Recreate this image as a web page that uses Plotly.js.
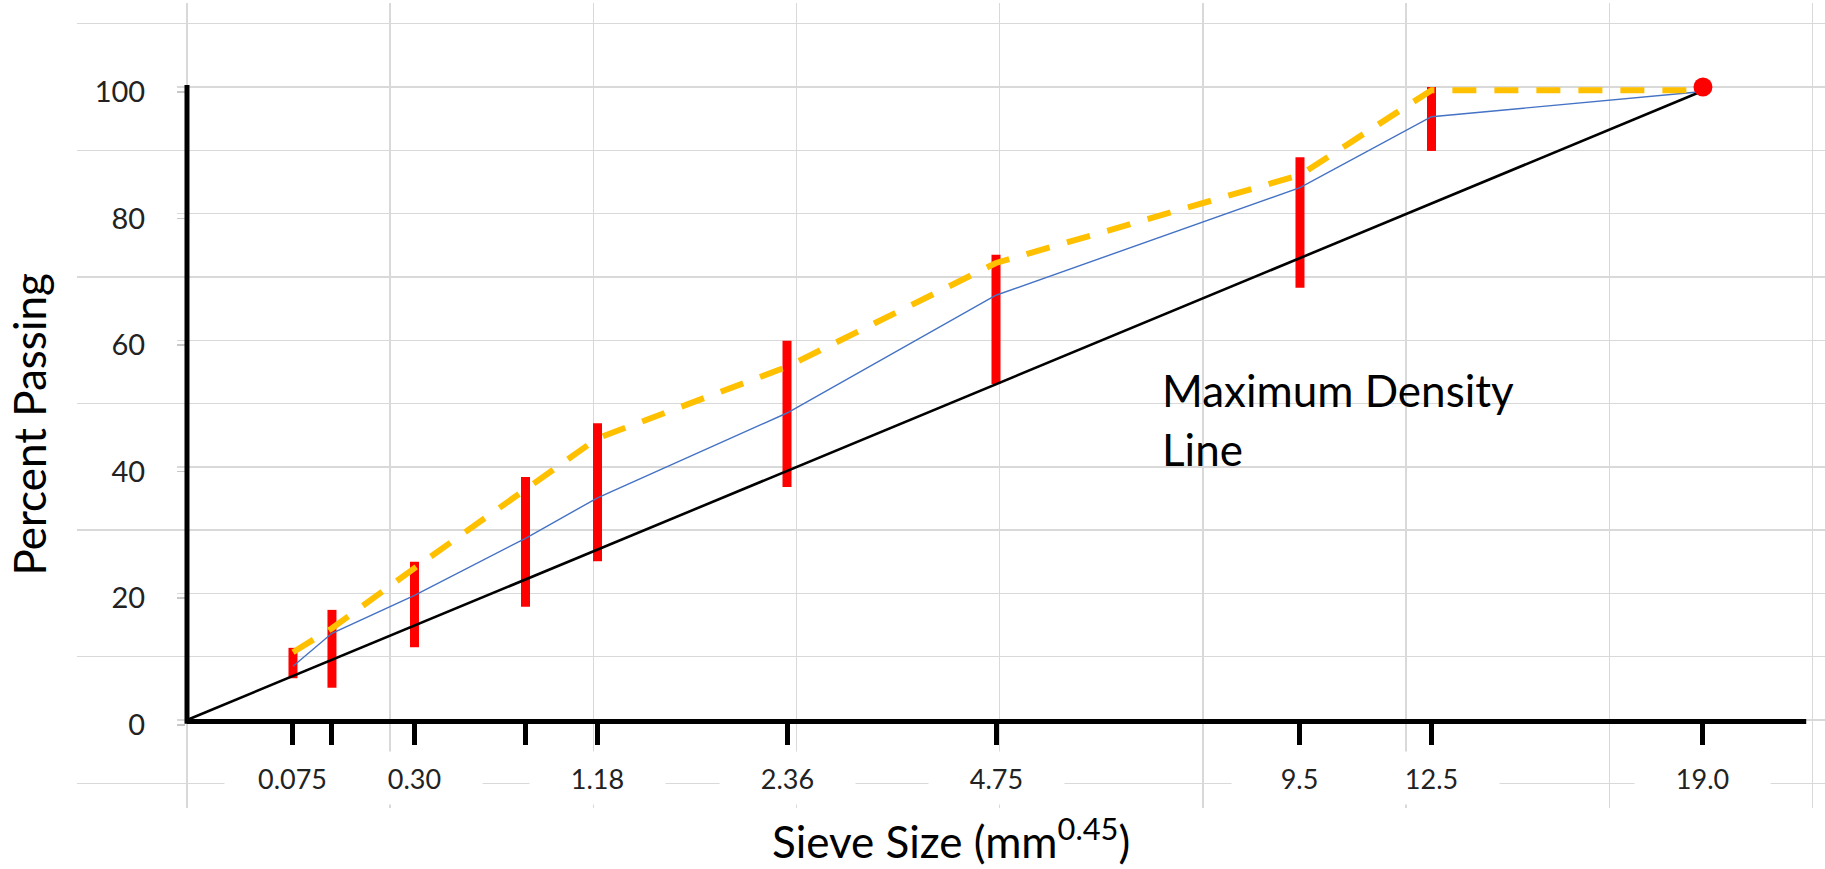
<!DOCTYPE html>
<html><head><meta charset="utf-8">
<script src="https://cdn.plot.ly/plotly-3.0.1.min.js"></script>
<style>html,body{margin:0;padding:0;background:#fff;overflow:hidden}#chart{width:1825px;height:869px}</style>
</head><body><div id="chart"></div>
<script>
// ---- data ----
const sieveSizes = ['0.075','0.15','0.30','0.60','1.18','2.36','4.75','9.5','12.5','19.0'];
const sieveTickLabels = ['0.075','','0.30','','1.18','2.36','4.75','9.5','12.5','19.0'];
// sieve positions on the horizontal axis, in mm^0.45 as drawn
const sieveX = [0.2625,0.359,0.5634,0.8383,1.0166,1.4859,2.0035,2.7563,3.082,3.7543];
// control band (red bars), percent passing
const controlLow  = [6.6,5.1,11.5,17.9,25.1,36.8,53.1,68.3,89.9];
const controlHigh = [11.4,17.4,25.0,38.4,46.9,59.9,73.5,88.9,100];
// upper gradation (dashed gold) and blend gradation (blue)
const upperGradation = [10.7,14.5,24.0,36.3,44.5,55.8,72.2,86.1,99.5,99.5];
const blendGradation = [8.5,13.7,19.7,28.7,35.1,48.5,67.1,84.1,95.3,99.3];
// maximum density line end points
const maxDensityPct = [0, 99.4];
const maxSizePct = [100];
const yTickVals = [0,20,40,60,80,100];
const yTickText = ['0','20','40','60','80','100'];

// ---- geometry ----
const W=1825,H=869,ML=77,MR=0,MT=3,MB=61;
const PW=W-ML-MR, PH=H-MT-MB;
const xRange=[-0.2724,4.0565], yRange=[-13.9,113.27];
const xPerPx=(xRange[1]-xRange[0])/PW, yPerPx=(yRange[1]-yRange[0])/PH;
const px2paperX = p => (p-ML)/PW;
const px2paperY = p => (H-MB-p)/PH;
const FONT='Lato, "Open Sans", sans-serif';
const labelShift = 0.75; // tick labels sit slightly below their gridline

const traces = [
  { type:'bar', x: sieveX.slice(0,controlLow.length), base: controlLow,
    y: controlHigh.map((h,i)=>h-controlLow[i]), width: 9*xPerPx,
    marker:{color:'#FF0000', line:{width:0}}, hoverinfo:'skip', showlegend:false },
  { type:'scatter', mode:'lines', x:[0, sieveX[sieveX.length-1]], y: maxDensityPct,
    line:{color:'#000000', width:2.6}, hoverinfo:'skip', showlegend:false },
  { type:'scatter', mode:'lines', x: sieveX, y: blendGradation,
    line:{color:'#4472C4', width:1.4}, hoverinfo:'skip', showlegend:false },
  { type:'scatter', mode:'lines', x: sieveX, y: upperGradation,
    line:{color:'#FFC000', width:6, dash:'24px,18px'}, hoverinfo:'skip', showlegend:false },
  { type:'scatter', mode:'markers', x:[sieveX[sieveX.length-1]], y: maxSizePct,
    marker:{color:'#FF0000', size:19}, hoverinfo:'skip', showlegend:false },
  { type:'scatter', mode:'markers', x:[sieveX[0]], y:[0], xaxis:'x2', yaxis:'y2',
    marker:{opacity:0}, hoverinfo:'skip', showlegend:false }
];

const annotations = [];
sieveTickLabels.forEach((t,i)=>{
  if(!t) return;
  annotations.push({ xref:'x', yref:'y', x: sieveX[i], y:(720-778)*yPerPx, text:t, showarrow:false,
    xanchor:'center', yanchor:'middle', width:135, height:52, bgcolor:'#FFFFFF', borderpad:0,
    font:{family:FONT, size:27, color:'#222222'} });
});
annotations.push({ xref:'paper', yref:'paper', x:px2paperX(0.5), y:px2paperY(425), text:'Percent Passing',
  textangle:-90, showarrow:false, xanchor:'left', yanchor:'middle', font:{family:FONT,size:44,color:'#000'} });
annotations.push({ xref:'paper', yref:'paper', x:px2paperX(951), y:px2paperY(868.5), text:'Sieve Size (mm<sup>0.45</sup>)',
  showarrow:false, xanchor:'center', yanchor:'bottom', font:{family:FONT,size:44,color:'#000'} });
annotations.push({ xref:'x', yref:'y', x:(1160-187)*xPerPx, y:(720-390)*yPerPx, text:'Maximum Density', showarrow:false,
  xanchor:'left', yanchor:'middle', font:{family:FONT,size:44,color:'#000'} });
annotations.push({ xref:'x', yref:'y', x:(1160-187)*xPerPx, y:(720-449)*yPerPx, text:'Line', showarrow:false,
  xanchor:'left', yanchor:'middle', font:{family:FONT,size:44,color:'#000'} });

const shapes = [
  { type:'line', xref:'x', yref:'y', x0:0, x1:4.01, y0:-0.25, y1:-0.25, line:{color:'#000', width:5} },
  { type:'line', xref:'x', yref:'y', x0:0, x1:0, y0:-0.6, y1:100.3, line:{color:'#000', width:5} }
];
// white label backgrounds hide the gridline left of the axis on the labelled rows
yTickVals.forEach(v=>{
  shapes.push({ type:'rect', layer:'between', xref:'x', yref:'y', x0:xRange[0], x1:(177-187)*xPerPx,
    y0:v-2.5*yPerPx, y1:v+2.5*yPerPx, fillcolor:'#FFFFFF', line:{width:0} });
});

const grid = {color:'#D9D9D9', width:1.4};
const layout = {
  width:W, height:H, margin:{l:ML,r:MR,t:MT,b:MB,pad:0},
  paper_bgcolor:'#FFFFFF', plot_bgcolor:'#FFFFFF', showlegend:false,
  xaxis:{ range:xRange, autorange:false, tick0:0, dtick:0.5032, showgrid:true, gridcolor:grid.color, gridwidth:grid.width,
    zeroline:false, showline:false, showticklabels:false, ticks:'', fixedrange:true },
  yaxis:{ range:yRange, autorange:false, tick0:0, dtick:10, showgrid:true, gridcolor:grid.color, gridwidth:grid.width,
    zeroline:false, showline:false, showticklabels:false, ticks:'', fixedrange:true },
  xaxis2:{ overlaying:'x', anchor:'free', position:px2paperY(721.7), side:'bottom', range:xRange, autorange:false,
    tickmode:'array', tickvals:sieveX, ticktext:sieveSizes, showticklabels:false, ticks:'outside', ticklen:22, tickwidth:5,
    tickcolor:'#000', showgrid:false, zeroline:false, showline:false, fixedrange:true },
  yaxis2:{ overlaying:'y', anchor:'free', position:px2paperX(185), side:'left',
    range:[yRange[0]+labelShift, yRange[1]+labelShift], autorange:false,
    tickmode:'array', tickvals:yTickVals, ticktext:yTickText, ticks:'outside', ticklen:8, tickwidth:1.5, tickcolor:'#C8C8C8',
    ticklabelstandoff:26, showgrid:false, zeroline:false, showline:false,
    tickfont:{family:FONT, size:29, color:'#222222'}, fixedrange:true },
  annotations, shapes
};
Plotly.newPlot('chart', traces, layout, {displayModeBar:false, staticPlot:true});
</script></body></html>
